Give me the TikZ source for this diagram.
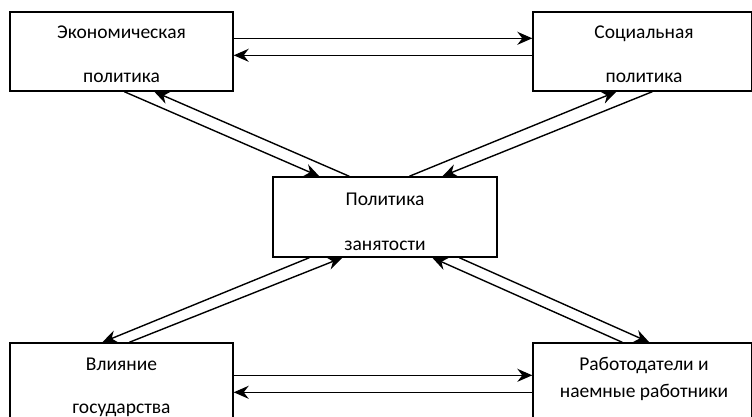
\documentclass[tikz,border=0pt]{standalone}
\usepackage{fontspec}
\setmainfont{Carlito}
\usetikzlibrary{arrows.meta,calc}
\begin{document}
\begin{tikzpicture}[x=1pt,y=-1pt,
  box/.style={draw,line width=1.4pt,inner sep=0pt},
  txt/.style={anchor=base,inner sep=0pt,font=\fontsize{19.5}{22}\selectfont},
  link/.style={line width=1.4pt,-{Stealth[length=15pt,width=13pt,inset=5pt]}}]
\useasboundingbox (0,0) rectangle (752,417);
\clip (0,0) rectangle (752,417);
\node[box,minimum width=223pt,minimum height=79pt] (ep) at (121.5,51.5) {};
\node[box,minimum width=219pt,minimum height=79pt] (sp) at (642.5,51.5) {};
\node[box,minimum width=224pt,minimum height=80pt] (pz) at (385,217) {};
\node[box,minimum width=223pt,minimum height=97pt] (vg) at (121.5,391.5) {};
\node[box,minimum width=219pt,minimum height=97pt] (rw) at (642.5,391.5) {};
% texts
\node[txt] (ep1) at (121.5,39) {Экономическая};
\node[txt] (ep2) at (121.5,83) {политика};
\node[txt] (sp1) at (644,39) {Социальная};
\node[txt] (sp2) at (644,83) {политика};
\node[txt] (pz1) at (385,205) {Политика};
\node[txt] (pz2) at (385,250) {занятости};
\node[txt] (vg1) at (121.5,370) {Влияние};
\node[txt] (vg2) at (121.5,413) {государства};
\node[txt] (rw1) at (644,370) {Работодатели и};
\node[txt] (rw2) at (644,397) {наемные работники};
% horizontal
\draw[link] ($(ep.north east)+(0,27)$) -- ($(sp.north west)+(0,27)$);
\draw[link] ($(sp.north west)+(0,44)$) -- ($(ep.north east)+(0,44)$);
\draw[link] ($(vg.north east)+(0,33)$) -- ($(rw.north west)+(0,33)$);
\draw[link] ($(rw.north west)+(0,50)$) -- ($(vg.north east)+(0,50)$);
% diagonals top-left
\draw[link] ($(ep.south west)+(115,0)$) -- ($(pz.north west)+(47,0)$);
\draw[link] ($(pz.north west)+(77,0)$) -- ($(ep.south west)+(145,0)$);
% diagonals top-right
\draw[link] ($(pz.north west)+(137,0)$) -- ($(sp.south west)+(84,0)$);
\draw[link] ($(sp.south west)+(120,0)$) -- ($(pz.north west)+(170,0)$);
% diagonals bottom-left
\draw[link] ($(pz.south west)+(37,0)$) -- ($(vg.north west)+(93,0)$);
\draw[link] ($(vg.north west)+(120,0)$) -- ($(pz.south west)+(70,0)$);
% diagonals bottom-right
\draw[link] ($(pz.south west)+(187,0)$) -- ($(rw.north west)+(117,0)$);
\draw[link] ($(rw.north west)+(90,0)$) -- ($(pz.south west)+(160,0)$);
\end{tikzpicture}
\end{document}
